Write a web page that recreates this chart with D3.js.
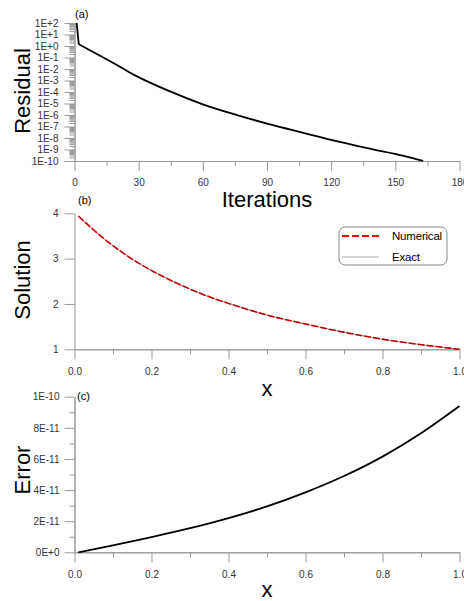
<!DOCTYPE html>
<html>
<head>
<meta charset="utf-8">
<script src="https://cdn.jsdelivr.net/npm/d3@7"></script>
<style>
  body { margin: 0; background: #fff; }
  svg text { font-family: "Liberation Sans", Arial, sans-serif; }
  .axis path, .axis line { stroke: #999; }
  .axis text { fill: #333; font-size: 10px; }
</style>
</head>
<body>
<svg id="chart" width="464" height="601"></svg>
<script>
// данные (a) - невязка по итерациям
var iterations = [1, 2, 21, 29, 45, 60, 76, 91, 107, 122, 138, 154, 163];
var residual = [100, 1.4, 0.0166, 2.4e-3, 1.07e-4, 8.5e-6, 9.8e-7, 1.6e-7, 2.8e-8, 5.6e-9, 1.2e-9, 2.75e-10, 1e-10];
var iterTicks = [0, 30, 60, 90, 120, 150, 180];
var residualTicks = ['1E+2', '1E+1', '1E+0', '1E-1', '1E-2', '1E-3', '1E-4', '1E-5', '1E-6', '1E-7', '1E-8', '1E-9', '1E-10'];

// данные (b) - решение
var xSol = [0.01, 0.075, 0.161, 0.248, 0.334, 0.421, 0.507, 0.594, 0.68, 0.767, 0.853, 0.94, 1.0];
var numerical = [3.94, 3.45, 2.93, 2.53, 2.21, 1.955, 1.74, 1.57, 1.41, 1.27, 1.155, 1.06, 1.0];
var exact = [3.94, 3.45, 2.93, 2.53, 2.21, 1.955, 1.74, 1.57, 1.41, 1.27, 1.155, 1.06, 1.0];
var solTicks = [1, 2, 3, 4];
var xTicks = [0, 0.2, 0.4, 0.6, 0.8, 1.0];

// данные (c) - погрешность
var xErr = [0.01, 0.1, 0.2, 0.3, 0.4, 0.5, 0.6, 0.7, 0.8, 0.9, 1.0];
var error = [0, 0.45e-11, 0.98e-11, 1.55e-11, 2.2e-11, 2.95e-11, 3.85e-11, 4.9e-11, 6.15e-11, 7.65e-11, 9.4e-11];
var errTicks = [0, 2e-11, 4e-11, 6e-11, 8e-11, 1e-10];
var errTickLabels = ['0E+0', '2E-11', '4E-11', '6E-11', '8E-11', '1E-10'];

var svg = d3.select('#chart');
var x0 = 74.5, x1 = 459.5;

function styleAxis(sel) {
    sel.attr('class', 'axis');
    sel.select('.domain').attr('stroke', '#999');
}

function title(text, x, y, rotate) {
    svg.append('text')
        .attr('transform', `translate(${x},${y})` + (rotate ? ' rotate(-90)' : ''))
        .attr('text-anchor', 'middle')
        .attr('font-size', 22)
        .attr('fill', '#000')
        .text(text);
}

function panelLabel(text, x, y) {
    svg.append('text').attr('x', x).attr('y', y)
        .attr('font-size', 11).attr('fill', '#000').text(text);
}

// ---------- (a) ----------
var xa = d3.scaleLinear().domain([0, 180]).range([x0, x1]);
var ya = d3.scaleLog().domain([1e-10, 1e2]).range([161, 23]);
var yBot = 161;

var minorLog = [];
for (var k = -10; k < 2; k++) {
    for (var m = 2; m <= 9; m++) minorLog.push(m * Math.pow(10, k));
}
var majorLog = residualTicks.map(function (t) { return +t; });

svg.append('g').attr('transform', `translate(${x0},0)`)
    .call(d3.axisLeft(ya).tickValues(minorLog).tickSize(5).tickFormat('').tickSizeOuter(0))
    .call(styleAxis);
svg.append('g').attr('transform', `translate(${x0},0)`)
    .call(d3.axisLeft(ya).tickValues(majorLog).tickSize(10).tickPadding(6).tickSizeOuter(0)
        .tickFormat(function (d, i) { return residualTicks[i]; }))
    .call(styleAxis);

svg.append('g').attr('transform', `translate(0,${yBot})`)
    .call(d3.axisBottom(xa).tickValues([15, 45, 75, 105, 135, 165]).tickSize(5).tickFormat('').tickSizeOuter(0))
    .call(styleAxis);
svg.append('g').attr('transform', `translate(0,${yBot})`)
    .call(d3.axisBottom(xa).tickValues(iterTicks).tickSize(10).tickPadding(8).tickSizeOuter(0))
    .call(styleAxis);

var resPts = iterations.map(function (d, i) { return [d, residual[i]]; });
// резкий спад на первых итерациях - прямой отрезок, дальше гладкая кривая
svg.append('path')
    .datum(resPts.slice(0, 2))
    .attr('fill', 'none').attr('stroke', '#000').attr('stroke-width', 1.8)
    .attr('d', d3.line().x(d => xa(d[0])).y(d => ya(d[1])));
svg.append('path')
    .datum(resPts.slice(1))
    .attr('fill', 'none').attr('stroke', '#000').attr('stroke-width', 1.8)
    .attr('d', d3.line().x(d => xa(d[0])).y(d => ya(d[1])).curve(d3.curveMonotoneX));

panelLabel('(a)', 75, 18);
title('Residual', 30, 91, true);
title('Iterations', 267, 207, false);

// ---------- (b) ----------
var xb = d3.scaleLinear().domain([0, 1]).range([x0, x1]);
var yb = d3.scaleLinear().domain([1, 4]).range([349.3, 213.3]);

svg.append('g').attr('transform', `translate(${x0},0)`)
    .call(d3.axisLeft(yb).tickValues(solTicks).tickSize(10).tickPadding(6).tickSizeOuter(0).tickFormat(d3.format('d')))
    .call(styleAxis);
svg.append('g').attr('transform', 'translate(0,349.3)')
    .call(d3.axisBottom(xb).tickValues([0.1, 0.3, 0.5, 0.7, 0.9]).tickSize(5).tickFormat('').tickSizeOuter(0))
    .call(styleAxis);
svg.append('g').attr('transform', 'translate(0,349.3)')
    .call(d3.axisBottom(xb).tickValues(xTicks).tickSize(10).tickPadding(9).tickSizeOuter(0).tickFormat(d3.format('.1f')))
    .call(styleAxis);

var lineB = d3.line().x(d => xb(d[0])).y(d => yb(d[1])).curve(d3.curveMonotoneX);
svg.append('path')
    .datum(xSol.map(function (d, i) { return [d, exact[i]]; }))
    .attr('fill', 'none').attr('stroke', '#999').attr('stroke-width', 1)
    .attr('d', lineB);
svg.append('path')
    .datum(xSol.map(function (d, i) { return [d, numerical[i]]; }))
    .attr('fill', 'none').attr('stroke', '#c00000').attr('stroke-width', 1.6)
    .attr('stroke-dasharray', '7,2')
    .attr('d', lineB);

// легенда
var leg = svg.append('g').attr('transform', 'translate(339,227)');
leg.append('rect').attr('width', 108).attr('height', 38).attr('rx', 6)
    .attr('fill', '#fff').attr('stroke', '#888').attr('stroke-width', 1);
leg.append('line').attr('x1', 3).attr('x2', 40).attr('y1', 9).attr('y2', 9)
    .attr('stroke', '#ff0000').attr('stroke-width', 1.8).attr('stroke-dasharray', '7,3');
leg.append('line').attr('x1', 3).attr('x2', 40).attr('y1', 30).attr('y2', 30)
    .attr('stroke', '#aaa').attr('stroke-width', 1);
leg.append('text').attr('x', 53).attr('y', 13).attr('font-size', 11.5).attr('letter-spacing', -0.2)
    .attr('fill', '#000').text('Numerical');
leg.append('text').attr('x', 53).attr('y', 34).attr('font-size', 11.5).attr('letter-spacing', -0.2)
    .attr('fill', '#000').text('Exact');

panelLabel('(b)', 78, 204);
title('Solution', 30, 280, true);
title('x', 267, 396, false);

// ---------- (c) ----------
var xc = d3.scaleLinear().domain([0, 1]).range([x0, x1]);
var yc = d3.scaleLinear().domain([0, 1e-10]).range([552.3, 396.7]);

svg.append('g').attr('transform', `translate(${x0},0)`)
    .call(d3.axisLeft(yc).tickValues([1e-11, 3e-11, 5e-11, 7e-11, 9e-11]).tickSize(5).tickFormat('').tickSizeOuter(0))
    .call(styleAxis);
svg.append('g').attr('transform', `translate(${x0},0)`)
    .call(d3.axisLeft(yc).tickValues(errTicks).tickSize(10).tickPadding(5).tickSizeOuter(0)
        .tickFormat(function (d, i) { return errTickLabels[i]; }))
    .call(styleAxis);
svg.append('g').attr('transform', 'translate(0,552.3)')
    .call(d3.axisBottom(xc).tickValues([0.1, 0.3, 0.5, 0.7, 0.9]).tickSize(5).tickFormat('').tickSizeOuter(0))
    .call(styleAxis);
svg.append('g').attr('transform', 'translate(0,552.3)')
    .call(d3.axisBottom(xc).tickValues(xTicks).tickSize(10).tickPadding(9).tickSizeOuter(0).tickFormat(d3.format('.1f')))
    .call(styleAxis);

svg.append('path')
    .datum(xErr.map(function (d, i) { return [d, error[i]]; }))
    .attr('fill', 'none').attr('stroke', '#000').attr('stroke-width', 1.8)
    .attr('d', d3.line().x(d => xc(d[0])).y(d => yc(d[1])).curve(d3.curveMonotoneX));

panelLabel('(c)', 77, 400);
title('Error', 30, 470, true);
title('x', 267, 597, false);
</script>
</body>
</html>
